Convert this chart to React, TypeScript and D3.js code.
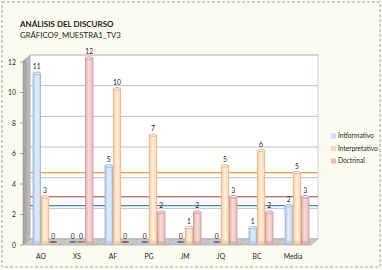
import React from 'react'
import * as d3 from "d3"

// chart values
const categories = ["AO", "XS", "AF", "PG", "JM", "JQ", "BC", "Media"];
const seriesNames = ["Intformativo", "Interpretativo", "Doctrinal"];
const informativo = [11, 0, 5, 0, 0, 0, 1, 2.43];
const interpretativo = [3, 0, 10, 7, 1, 5, 6, 4.57];
const doctrinal = [0, 12, 0, 2, 2, 3, 2, 3];
const meanLines = [4.57, 3, 2.43]; // interpretativo, doctrinal, informativo
const yTicks = [0, 2, 4, 6, 8, 10, 12];

const colors = [
    { fill: "#c6d9f0", light: "#e2ecf8", dark: "#b3cbe8", stroke: "#8eaad4", zero: "#4a6288" },
    { fill: "#fcd7b6", light: "#ffeedd", dark: "#f5c9a2", stroke: "#e3a877", zero: "#b06a30" },
    { fill: "#ebbbbb", light: "#f7dcdc", dark: "#e2adad", stroke: "#c58b8b", zero: "#8a3534" },
];
const lineColors = ["#f79646", "#a83c3a", "#4f81bd"];

function App() {
    const width = 382;
    const height = 270;
    const depth = 7;
    const dy = 6;

    const x = d3.scaleBand().domain(categories).range([23, 311]);
    const x1 = d3.scaleBand().domain(seriesNames).range([0, 24]).paddingInner(0.08);
    const yBar = d3.scaleLinear().domain([0, 12]).range([243, 58]);
    const yWall = d3.scaleLinear().domain([0, 12]).range([239, 55]);
    const yFront = d3.scaleLinear().domain([0, 12]).range([245, 62]);

    const values = [informativo, interpretativo, doctrinal];
    const wallLeft = 23 + depth;
    const wallRight = 311 + depth;
    const font = "Lato, 'Open Sans', sans-serif";

    return (
        <svg width={width} height={height} style={{ position: "absolute", left: 0, top: 0 }}>
            <defs>
                {colors.map((c, i) => (
                    <linearGradient key={i} id={`cyl${i}`} x1="0" x2="1" y1="0" y2="0">
                        <stop offset="0" stopColor={c.dark} />
                        <stop offset="0.45" stopColor={c.light} />
                        <stop offset="1" stopColor={c.fill} />
                    </linearGradient>
                ))}
                <linearGradient id="wall" x1="0" x2="1" y1="0" y2="0">
                    <stop offset="0" stopColor="#9a9a9a" />
                    <stop offset="1" stopColor="#c4c4c4" />
                </linearGradient>
            </defs>
            <rect x={0} y={0} width={width} height={height} fill="#fbfbf0" />
            <rect x={2} y={2} width={378} height={265} fill="none" stroke="#a6a6a6"
                strokeDasharray="3,2" />

            <text x={20} y={27} fontFamily={font} fontSize={8} fontWeight="bold" fill="#1a1a1a">
                ANÁLISIS DEL DISCURSO
            </text>
            <text x={20} y={38} fontFamily={font} fontSize={7.8} fill="#1a1a1a">
                GRÁFICO9_MUESTRA1_TV3
            </text>

            {/* back wall */}
            <rect x={wallLeft} y={yWall(12)} width={wallRight - wallLeft} height={yWall(0) - yWall(12)}
                fill="#ffffff" stroke="#c8c8c8" strokeWidth={0.8} />
            {yTicks.map(t => (
                <line key={t} x1={wallLeft} x2={wallRight} y1={yWall(t)} y2={yWall(t)}
                    stroke="#c0c0c0" strokeWidth={1} />
            ))}
            {/* left wall */}
            <polygon
                points={`23,${yWall(12) + dy} ${wallLeft},${yWall(12)} ${wallLeft},${yWall(0)} 23,${yWall(0) + dy}`}
                fill="url(#wall)" stroke="#9a9a9a" strokeWidth={0.5} />
            {/* floor */}
            <polygon
                points={`23,${yWall(0) + dy} 311,${yWall(0) + dy} ${wallRight},${yWall(0)} ${wallLeft},${yWall(0)}`}
                fill="#c9c9c9" stroke="#a0a0a0" strokeWidth={0.6} />
            {categories.map(c => (
                <line key={c} x1={x(c)!} x2={x(c)! + depth} y1={yWall(0) + dy} y2={yWall(0)}
                    stroke="#a8a8a8" strokeWidth={0.6} />
            ))}

            {/* y axis */}
            {yTicks.map(t => (
                <g key={t}>
                    <line x1={20} x2={23} y1={yFront(t)} y2={yFront(t)} stroke="#8c8c8c" strokeWidth={0.8} />
                    <text x={16} y={yFront(t) + 2.5} textAnchor="end" fontFamily={font} fontSize={6.8}
                        fill="#262626">{t}</text>
                </g>
            ))}

            {/* mean lines */}
            {meanLines.map((m, i) => (
                <line key={i} x1={wallLeft} x2={wallRight} y1={yBar(m)} y2={yBar(m)}
                    stroke={lineColors[i]} strokeWidth={1.2} />
            ))}

            {/* bars */}
            {categories.map((c, ci) => (
                <g key={c}>
                    {seriesNames.map((s, si) => {
                        const v = values[si][ci];
                        const w = x1.bandwidth();
                        const bx = x(c)! + 10 + x1(s)!;
                        const top = yBar(v);
                        const base = yBar(0);
                        const col = colors[si];
                        const label = Math.round(v);
                        return (
                            <g key={s}>
                                {v > 0 ? (
                                    <>
                                        <rect x={bx} y={top} width={w} height={base - top}
                                            fill={`url(#cyl${si})`} stroke={col.stroke} strokeWidth={0.7} />
                                        <ellipse cx={bx + w / 2} cy={base} rx={w / 2} ry={1.3}
                                            fill={col.fill} stroke={col.stroke} strokeWidth={0.5} />
                                        <ellipse cx={bx + w / 2} cy={top} rx={w / 2} ry={1.3}
                                            fill={col.light} stroke={col.stroke} strokeWidth={0.7} />
                                    </>
                                ) : (
                                    <ellipse cx={bx + w / 2} cy={base - 1} rx={w / 2} ry={0.9}
                                        fill={col.zero} opacity={0.8} />
                                )}
                                <text x={bx + w / 2} y={top - 4} textAnchor="middle" fontFamily={font}
                                    fontSize={6.8} fill="#262626">{label}</text>
                            </g>
                        );
                    })}
                    <text x={x(c)! + x.bandwidth() / 2} y={259} textAnchor="middle" fontFamily={font}
                        fontSize={6.8} fill="#262626">{c}</text>
                </g>
            ))}

            {/* legend */}
            {seriesNames.map((s, i) => (
                <g key={s} transform={`translate(331, ${136 + i * 12.5})`}>
                    <rect x={0} y={-2.5} width={5} height={5} fill={colors[i].fill} />
                    <text x={7} y={2.3} fontFamily={font} fontSize={6.6} fill="#262626">{s}</text>
                </g>
            ))}
        </svg>
    )
}

export default App
